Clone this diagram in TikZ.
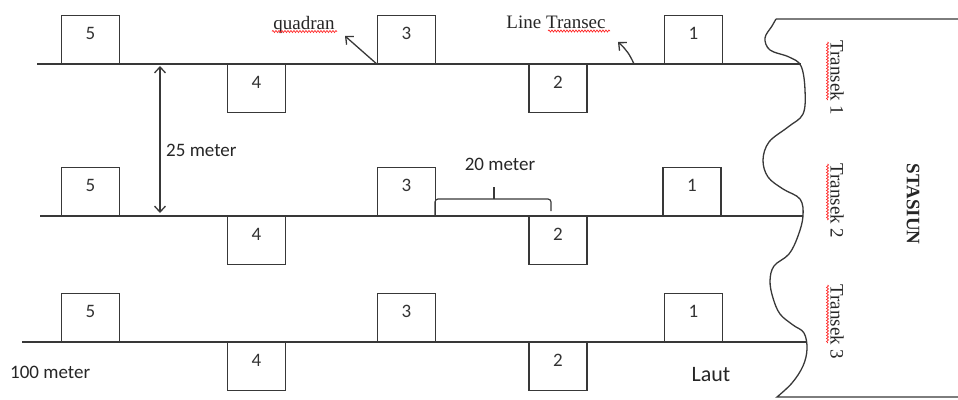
\documentclass[tikz,border=0pt]{standalone}
\usepackage{fontspec}
\setmainfont{Liberation Serif}
\setsansfont{Carlito}
\usetikzlibrary{arrows.meta,decorations.pathmorphing}
\begin{document}
\begin{tikzpicture}[x=1pt,y=-1pt,
  ln/.style={draw=black!78,line width=1.4pt},
  quad/.style={draw=black!78,line width=1.4pt,minimum width=58pt,minimum height=48pt,inner sep=0pt,
    text height=10pt,text depth=10pt,font=\sffamily\fontsize{19}{19}\selectfont,text=black!80},
  up/.style={quad,anchor=south},
  dn/.style={quad,anchor=north},
  sanslbl/.style={font=\sffamily\fontsize{19}{19}\selectfont,text=black!85,inner sep=0pt},
  seriflbl/.style={font=\fontsize{19}{19}\selectfont,text=black!85,inner sep=0pt},
  vlbl/.style={seriflbl,rotate=-90},
  arr/.style={draw=black!78,line width=1.3pt,-{Straight Barb[length=6pt,width=11pt]}},
  spell/.style={draw=red!85,line width=0.7pt,decorate,decoration={snake,amplitude=1pt,segment length=3pt}}
]
\useasboundingbox (0,0) rectangle (958,399);

% row lines
\coordinate (r1s) at (37,64);  \coordinate (r1e) at (801,64);
\coordinate (r2s) at (40,216); \coordinate (r2e) at (803,216);
\coordinate (r3s) at (22,342); \coordinate (r3e) at (806,342);
\draw[ln] (r1s) -- (r1e);
\draw[ln] (r2s) -- (r2e);
\draw[ln] (r3s) -- (r3e);

% row 1 quadrats
\node[up] (r1q5) at (90.5,64) {5};
\node[dn] (r1q4) at (256.5,64) {4};
\node[up] (r1q3) at (406.5,64) {3};
\node[dn] (r1q2) at (558,64) {2};
\node[up] (r1q1) at (693.5,64) {1};
% row 2 quadrats
\node[up] (r2q5) at (90.5,216) {5};
\node[dn] (r2q4) at (256.5,216) {4};
\node[up] (r2q3) at (406.5,216) {3};
\node[dn] (r2q2) at (558,216) {2};
\node[up] (r2q1) at (692,216) {1};
% row 3 quadrats
\node[up] (r3q5) at (90.5,342) {5};
\node[dn] (r3q4) at (256.5,342) {4};
\node[up] (r3q3) at (406.5,342) {3};
\node[dn] (r3q2) at (558,342) {2};
\node[up] (r3q1) at (693.5,342) {1};

% shore
\draw[ln,line width=1.3pt] (958,19) -- (776,19)
  plot[smooth,tension=0.6] coordinates {(776,19) (772,26) (765,38) (770,50) (789,57) (801,66) (805,90) (803,114) (788,127) (769,142) (763,160) (768,177) (783,189) (800,199) (803,216) (798,236) (789,254) (774,266) (770,281) (773,298) (780,314) (793,325) (804,333) (807,349) (803,366) (792,383) (777,397)}
  -- (958,397);

% labels top
\node[seriflbl,anchor=base] (quad) at (304,29) {quadran};
\draw[spell] (272,31.5) -- (337,31.5);
\coordinate (quadtip) at (345,36);
\draw[arr] (r1q3.south west) -- (quadtip);

\node[seriflbl,anchor=base] (ltr) at (556,28) {Line Transec};
\draw[spell] (548,31) -- (610,31);
\coordinate (ltbase) at (634,64);
\coordinate (lttip) at (618,42);
\draw[arr] (ltbase) to[bend right=12] (lttip);

% 25 meter
\coordinate (a25t) at (160,66);
\coordinate (a25b) at (160,213);
\draw[draw=black!78,line width=1.3pt,{Straight Barb[length=6pt,width=11pt]}-{Straight Barb[length=6pt,width=11pt]}] (a25t) -- (a25b);
\node[sanslbl,anchor=base west] (m25) at (166,156) {25 meter};

% 20 meter brace
\coordinate (brL) at (435,216);
\coordinate (brR) at (551,211);
\draw[draw=black!78,line width=1.2pt,rounded corners=3pt] (brL) -- (435,199) -- (551,199) -- (brR);
\coordinate (brM) at (494,199);
\coordinate (brT) at (494,187);
\draw[draw=black!78,line width=1.2pt] (brM) -- (brT);
\node[sanslbl,anchor=base] (m20) at (500,170) {20 meter};

% bottom labels
\node[sanslbl,anchor=base west] (m100) at (10,378) {100 meter};
\node[sanslbl,anchor=base,font=\sffamily\fontsize{22}{22}\selectfont] (laut) at (711,381) {Laut};

% transek labels
\node[vlbl] (t1) at (837,78) {Transek 1};
\draw[spell] (827.5,42) -- (827.5,100);
\node[vlbl] (t2) at (837,201) {Transek 2};
\draw[spell] (827.5,164) -- (827.5,220);
\node[vlbl] (t3) at (837,322) {Transek 3};
\draw[spell] (827.5,285) -- (827.5,343);
\node[vlbl,font=\bfseries\fontsize{19}{19}\selectfont] (stasiun) at (913,204) {STASIUN};
\end{tikzpicture}
\end{document}
